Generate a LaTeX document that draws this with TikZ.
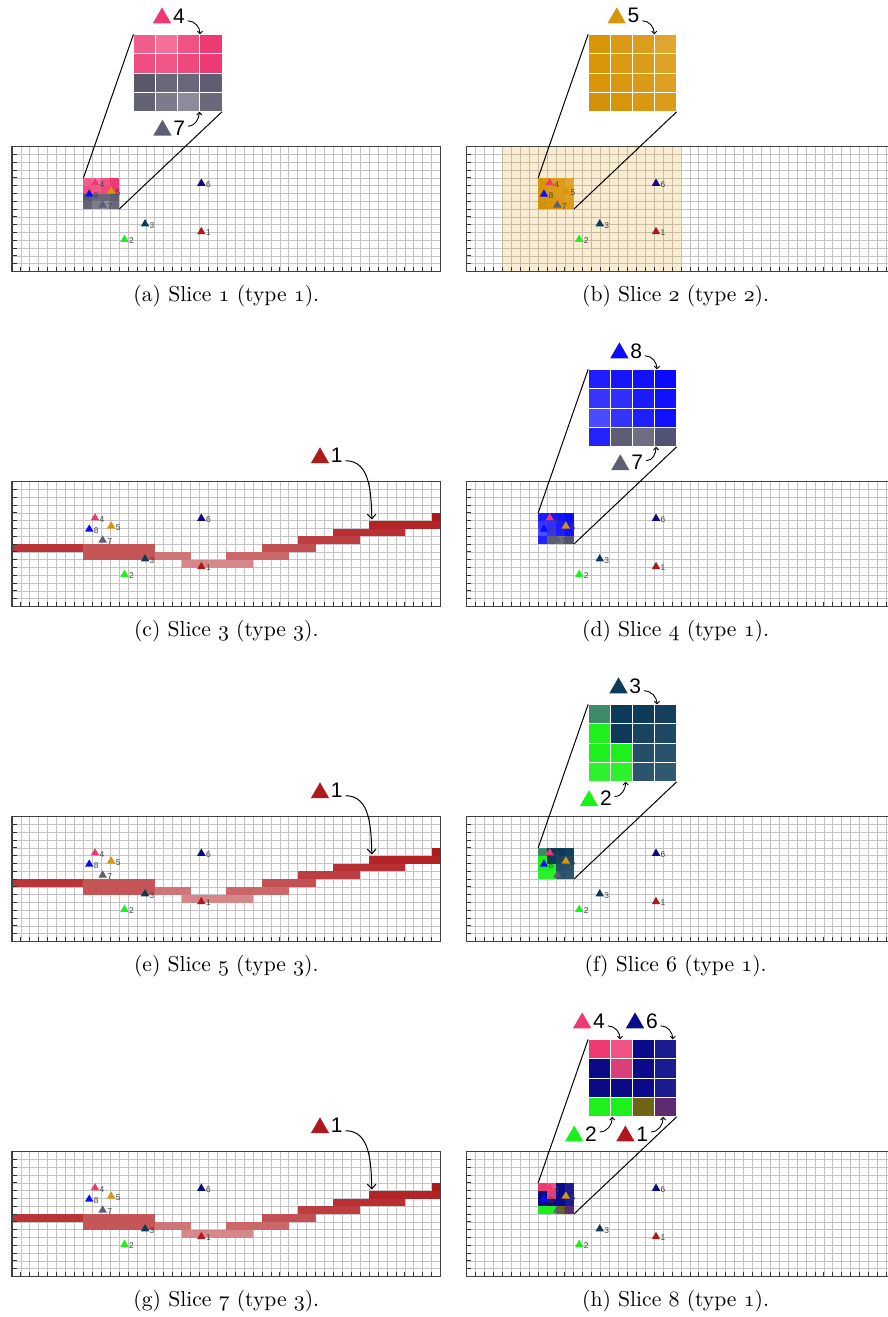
\documentclass[tikz,border=0pt]{standalone}
\usepackage{fontspec}
\usepackage{xcolor}
\usepackage{tikz}
\usetikzlibrary{shapes.geometric, arrows.meta, positioning, calc}
\newfontfamily\labelfont{Liberation Sans}
\newcommand{\osf}[1]{{\usefont{OML}{cmm}{m}{it}#1}}

\definecolor{ptone}{HTML}{B0191C}
\definecolor{pttwo}{HTML}{1EF01E}
\definecolor{ptthree}{HTML}{0D3A58}
\definecolor{ptfour}{HTML}{EE3A72}
\definecolor{ptfive}{HTML}{D9950A}
\definecolor{ptsix}{HTML}{0A0A8A}
\definecolor{ptseven}{HTML}{5E5E72}
\definecolor{pteight}{HTML}{0A0AFF}
\definecolor{mixteal}{HTML}{3F8A6A}
\definecolor{mixpink}{HTML}{D9407A}
\definecolor{mixolive}{HTML}{6E6414}
\definecolor{mixpurple}{HTML}{5E2A70}
\definecolor{mixslate}{HTML}{525275}

\tikzset{
    gridline/.style={draw=black!23, line width=0.4pt},
    gridframe/.style={draw=black!75, line width=0.7pt},
    tickmark/.style={draw=black!80, line width=0.45pt},
    ptmark/.style={regular polygon, regular polygon sides=3, fill=#1, inner sep=0pt, minimum size=4.9pt},
    ptlabel/.style={font=\labelfont\fontsize{4.2}{4.2}\selectfont, text=black!75, inner sep=0.2pt},
    bigmark/.style={regular polygon, regular polygon sides=3, fill=#1, inner sep=0pt, minimum size=10.6pt},
    biglabel/.style={font=\labelfont\fontsize{10.5}{10.5}\selectfont, inner sep=0.5pt},
    zoomcell/.style={draw=white, line width=0.5pt},
    zoomline/.style={draw=black, line width=0.5pt},
    pointer/.style={-{Straight Barb[length=1.3pt, width=2.6pt]}, line width=0.45pt},
    bandpointer/.style={-{Straight Barb[length=2.4pt, width=4.4pt]}, line width=0.5pt},
    caption/.style={font=\fontsize{10.8}{13}\selectfont, inner sep=0pt},
    typetwoarea/.style={fill=ptfive, fill opacity=0.18},
    panel/.style={x=4.465pt, y=-3.9pt},
}

% grid of one slice (48 x 16 cells)
\newcommand{\slicegrid}{%
  \foreach \gx in {1,...,47} {\draw[gridline] (\gx,0) -- (\gx,16);}
  \foreach \gy in {1,...,15} {\draw[gridline] (0,\gy) -- (48,\gy);}
}
\newcommand{\sliceframe}{%
  \foreach \gx in {1,...,47} {\draw[tickmark] (\gx,16) -- (\gx,15.42);}
  \foreach \gy in {1,...,15} {\draw[tickmark] (0,\gy) -- (0.52,\gy);}
  \draw[gridframe] (0,0) rectangle (48,16);
}
% the eight points
\newcommand{\slicepoints}[1]{%
  \node[ptmark=ptone]   (#1-t1) at (21.2,10.9) {};
  \node[ptmark=pttwo]   (#1-t2) at (12.6,11.9) {};
  \node[ptmark=ptthree] (#1-t3) at (14.9,9.9) {};
  \node[ptmark=ptfour]  (#1-t4) at (9.3,4.65) {};
  \node[ptmark=ptfive]  (#1-t5) at (11.1,5.7) {};
  \node[ptmark=ptsix]   (#1-t6) at (21.2,4.7) {};
  \node[ptmark=ptseven] (#1-t7) at (10.15,7.5) {};
  \node[ptmark=pteight] (#1-t8) at (8.65,6.1) {};
  \foreach \k in {1,...,8}
    {\node[ptlabel, right=0.3pt of #1-t\k, yshift=-0.6pt] (#1-n\k) {\k};}
}
% one cell of the 4x4 box, in the grid and in the zoom
\newcommand{\zoomed}[3]{%
  \fill[fill=#3] ({8+#1},{4+#2}) rectangle ++(1,1);
  \filldraw[zoomcell, fill=#3] ({13.6+2.48*#1},{-14.4+2.48*#2}) rectangle ++(2.48,2.48);
}
\newcommand{\zoomframe}[1]{%
  \coordinate (#1-boxnw) at (8,4);
  \coordinate (#1-boxse) at (12,8);
  \coordinate (#1-zoomnw) at (13.6,-14.4);
  \coordinate (#1-zoomse) at (23.52,-4.48);
  \draw[zoomline] (#1-boxnw) -- (#1-zoomnw);
  \draw[zoomline] (#1-boxse) -- (#1-zoomse);
}
% red path of type 3 slices
\newcommand{\bandrun}[4]{\fill[fill=ptone!#4!white] (#1,#3) rectangle ({#2+1},{#3+1});}
\newcommand{\slicepath}{%
  \bandrun{0}{7}{8}{88}
  \bandrun{8}{15}{8}{74}
  \bandrun{8}{15}{9}{74}
  \bandrun{16}{19}{9}{60}
  \bandrun{19}{26}{10}{52}
  \bandrun{24}{30}{9}{66}
  \bandrun{28}{33}{8}{76}
  \bandrun{32}{38}{7}{84}
  \bandrun{36}{43}{6}{90}
  \bandrun{40}{47}{5}{95}
  \bandrun{47}{47}{4}{100}
}

\begin{document}
\begin{tikzpicture}[x=0.5pt, y=-0.5pt]
\useasboundingbox (0,0) rectangle (888,1317);
\clip (0,0) rectangle (888,1317);

% === (a) SLICE 1 ===
\begin{scope}[shift={(12,146.7)}, panel]
\slicegrid
\foreach \zc/\zclr in {0/ptfour!82!white, 1/ptfour!72!white, 2/ptfour!88!white, 3/ptfour} {\zoomed{\zc}{0}{\zclr}}
\foreach \zc/\zclr in {0/ptfour!90!white, 1/ptfour!86!white, 2/ptfour!93!white, 3/ptfour} {\zoomed{\zc}{1}{\zclr}}
\foreach \zc/\zclr in {0/ptseven!95!black, 1/ptseven!94!white, 2/ptseven!94!white, 3/ptseven} {\zoomed{\zc}{2}{\zclr}}
\foreach \zc/\zclr in {0/ptseven!97!white, 1/ptseven!82!white, 2/ptseven!72!white, 3/ptseven!93!white} {\zoomed{\zc}{3}{\zclr}}
\sliceframe
\slicepoints{a}
\zoomframe{a}
\node[bigmark=ptfour] (a-m4) at (16.8,-16.5) {};
\node[biglabel, right=1.5pt of a-m4, yshift=1.1pt] (a-l4) {4};
\coordinate (a-z4) at (21.05,-14.4);
\draw[pointer] ([xshift=0.8pt, yshift=-2.5pt]a-l4.east) to[out=0, in=90] (a-z4);
\node[bigmark=ptseven] (a-m7) at (16.85,-2.1) {};
\node[biglabel, right=1.5pt of a-m7, yshift=1.1pt] (a-l7) {7};
\coordinate (a-z7) at (20.97,-4.48);
\draw[pointer] ([xshift=0.8pt, yshift=1pt]a-l7.east) to[out=0, in=-90] (a-z7);
\node[caption] (a-cap) at (24,19.17) {(a) Slice \osf{1} (type \osf{1}).};
\end{scope}

% === (b) SLICE 2 ===
\begin{scope}[shift={(466.7,146.7)}, panel]
\slicegrid
\fill[typetwoarea] (4,0) rectangle (24,16);
\foreach \zc/\zclr in {0/ptfive, 1/ptfive!95!white, 2/ptfive!92!white, 3/ptfive!85!white} {\zoomed{\zc}{0}{\zclr}}
\foreach \zc/\zclr in {0/ptfive, 1/ptfive!96!white, 2/ptfive!93!white, 3/ptfive!88!white} {\zoomed{\zc}{1}{\zclr}}
\foreach \zc/\zclr in {0/ptfive, 1/ptfive!97!white, 2/ptfive!95!white, 3/ptfive!90!white} {\zoomed{\zc}{2}{\zclr}}
\foreach \zc/\zclr in {0/ptfive!97!black, 1/ptfive, 2/ptfive!97!white, 3/ptfive!93!white} {\zoomed{\zc}{3}{\zclr}}
\sliceframe
\slicepoints{b}
\zoomframe{b}
\node[bigmark=ptfive] (b-m5) at (16.8,-16.5) {};
\node[biglabel, right=1.5pt of b-m5, yshift=1.1pt] (b-l5) {5};
\coordinate (b-z5) at (21.0,-14.4);
\draw[pointer] ([xshift=0.8pt, yshift=-2.5pt]b-l5.east) to[out=0, in=90] (b-z5);
\node[caption] (b-cap) at (23.4,19.17) {(b) Slice \osf{2} (type \osf{2}).};
\end{scope}

% === (c) SLICE 3 ===
\begin{scope}[shift={(12,481.7)}, panel]
\slicegrid
\slicepath
\sliceframe
\slicepoints{c}
\node[bigmark=ptone] (c-m1) at (34.49,-3.05) {};
\node[biglabel, right=1.5pt of c-m1, yshift=1.1pt] (c-l1) {1};
\coordinate (c-z1) at (40.3,4.85);
\draw[bandpointer] ([xshift=0.8pt, yshift=-2.5pt]c-l1.east) to[out=0, in=92] (c-z1);
\node[caption] (c-cap) at (24,19.17) {(c) Slice \osf{3} (type \osf{3}).};
\end{scope}

% === (d) SLICE 4 ===
\begin{scope}[shift={(466.7,481.7)}, panel]
\slicegrid
\foreach \zc/\zclr in {0/pteight!92!white, 1/pteight!95!white, 2/pteight!97!white, 3/pteight} {\zoomed{\zc}{0}{\zclr}}
\foreach \zc/\zclr in {0/pteight!82!white, 1/pteight!85!white, 2/pteight!93!white, 3/pteight!97!white} {\zoomed{\zc}{1}{\zclr}}
\foreach \zc/\zclr in {0/pteight!74!white, 1/pteight!83!white, 2/pteight!92!white, 3/pteight!97!white} {\zoomed{\zc}{2}{\zclr}}
\foreach \zc/\zclr in {0/pteight!90!white, 1/ptseven, 2/ptseven!90!white, 3/mixslate} {\zoomed{\zc}{3}{\zclr}}
\sliceframe
\slicepoints{d}
\zoomframe{d}
\node[bigmark=pteight] (d-m8) at (17.1,-16.5) {};
\node[biglabel, right=1.5pt of d-m8, yshift=1.1pt] (d-l8) {8};
\coordinate (d-z8) at (21.3,-14.4);
\draw[pointer] ([xshift=0.8pt, yshift=-2.5pt]d-l8.east) to[out=0, in=90] (d-z8);
\node[bigmark=ptseven] (d-m7) at (17.2,-2.15) {};
\node[biglabel, right=1.5pt of d-m7, yshift=1.1pt] (d-l7) {7};
\coordinate (d-z7) at (21.2,-4.48);
\draw[pointer] ([xshift=0.8pt, yshift=1pt]d-l7.east) to[out=0, in=-90] (d-z7);
\node[caption] (d-cap) at (23.4,19.17) {(d) Slice \osf{4} (type \osf{1}).};
\end{scope}

% === (e) SLICE 5 ===
\begin{scope}[shift={(12,816.7)}, panel]
\slicegrid
\slicepath
\sliceframe
\slicepoints{e}
\node[bigmark=ptone] (e-m1) at (34.49,-3.05) {};
\node[biglabel, right=1.5pt of e-m1, yshift=1.1pt] (e-l1) {1};
\coordinate (e-z1) at (40.3,4.85);
\draw[bandpointer] ([xshift=0.8pt, yshift=-2.5pt]e-l1.east) to[out=0, in=92] (e-z1);
\node[caption] (e-cap) at (24,19.17) {(e) Slice \osf{5} (type \osf{3}).};
\end{scope}

% === (f) SLICE 6 ===
\begin{scope}[shift={(466.7,816.7)}, panel]
\slicegrid
\foreach \zc/\zclr in {0/mixteal, 1/ptthree, 2/ptthree, 3/ptthree!97!white} {\zoomed{\zc}{0}{\zclr}}
\foreach \zc/\zclr in {0/pttwo, 1/ptthree, 2/ptthree!95!white, 3/ptthree!93!white} {\zoomed{\zc}{1}{\zclr}}
\foreach \zc/\zclr in {0/pttwo, 1/pttwo, 2/ptthree!90!white, 3/ptthree!88!white} {\zoomed{\zc}{2}{\zclr}}
\foreach \zc/\zclr in {0/pttwo!94!white, 1/pttwo!94!white, 2/ptthree!87!white, 3/ptthree!85!white} {\zoomed{\zc}{3}{\zclr}}
\sliceframe
\slicepoints{f}
\zoomframe{f}
\node[bigmark=ptthree] (f-m3) at (17.0,-16.5) {};
\node[biglabel, right=1.5pt of f-m3, yshift=1.1pt] (f-l3) {3};
\coordinate (f-z3) at (21.3,-14.4);
\draw[pointer] ([xshift=0.8pt, yshift=-2.5pt]f-l3.east) to[out=0, in=90] (f-z3);
\node[bigmark=pttwo] (f-m2) at (13.7,-2.05) {};
\node[biglabel, right=1.5pt of f-m2, yshift=1.1pt] (f-l2) {2};
\coordinate (f-z2) at (17.8,-4.48);
\draw[pointer] ([xshift=0.8pt, yshift=1pt]f-l2.east) to[out=0, in=-90] (f-z2);
\node[caption] (f-cap) at (23.4,19.17) {(f) Slice \osf{6} (type \osf{1}).};
\end{scope}

% === (g) SLICE 7 ===
\begin{scope}[shift={(12,1151.7)}, panel]
\slicegrid
\slicepath
\sliceframe
\slicepoints{g}
\node[bigmark=ptone] (g-m1) at (34.49,-3.05) {};
\node[biglabel, right=1.5pt of g-m1, yshift=1.1pt] (g-l1) {1};
\coordinate (g-z1) at (40.3,4.85);
\draw[bandpointer] ([xshift=0.8pt, yshift=-2.5pt]g-l1.east) to[out=0, in=92] (g-z1);
\node[caption] (g-cap) at (24,19.17) {(g) Slice \osf{7} (type \osf{3}).};
\end{scope}

% === (h) SLICE 8 ===
\begin{scope}[shift={(466.7,1151.7)}, panel]
\slicegrid
\foreach \zc/\zclr in {0/ptfour, 1/ptfour!88!white, 2/ptsix, 3/ptsix!93!white} {\zoomed{\zc}{0}{\zclr}}
\foreach \zc/\zclr in {0/ptsix!96!black, 1/mixpink, 2/ptsix, 3/ptsix!93!white} {\zoomed{\zc}{1}{\zclr}}
\foreach \zc/\zclr in {0/ptsix!96!black, 1/ptsix!96!black, 2/ptsix, 3/ptsix!93!white} {\zoomed{\zc}{2}{\zclr}}
\foreach \zc/\zclr in {0/pttwo, 1/pttwo, 2/mixolive, 3/mixpurple} {\zoomed{\zc}{3}{\zclr}}
\sliceframe
\slicepoints{h}
\zoomframe{h}
\node[bigmark=ptfour] (h-m4) at (12.93,-16.5) {};
\node[biglabel, right=1.5pt of h-m4, yshift=1.1pt] (h-l4) {4};
\coordinate (h-z4) at (17.17,-14.4);
\draw[pointer] ([xshift=0.8pt, yshift=-2.5pt]h-l4.east) to[out=0, in=90] (h-z4);
\node[bigmark=ptsix] (h-m6) at (18.85,-16.5) {};
\node[biglabel, right=1.5pt of h-m6, yshift=1.1pt] (h-l6) {6};
\coordinate (h-z6) at (23.07,-14.4);
\draw[pointer] ([xshift=0.8pt, yshift=-2.5pt]h-l6.east) to[out=0, in=90] (h-z6);
\node[bigmark=pttwo] (h-m2) at (12.04,-2.0) {};
\node[biglabel, right=1.5pt of h-m2, yshift=1.1pt] (h-l2) {2};
\coordinate (h-z2) at (16.3,-4.48);
\draw[pointer] ([xshift=0.8pt, yshift=1pt]h-l2.east) to[out=0, in=-90] (h-z2);
\node[bigmark=ptone] (h-m1) at (17.77,-2.0) {};
\node[biglabel, right=1.5pt of h-m1, yshift=1.1pt] (h-l1) {1};
\coordinate (h-z1) at (22.0,-4.48);
\draw[pointer] ([xshift=0.8pt, yshift=1pt]h-l1.east) to[out=0, in=-90] (h-z1);
\node[caption] (h-cap) at (23.4,19.17) {(h) Slice \osf{8} (type \osf{1}).};
\end{scope}

\end{tikzpicture}
\end{document}
